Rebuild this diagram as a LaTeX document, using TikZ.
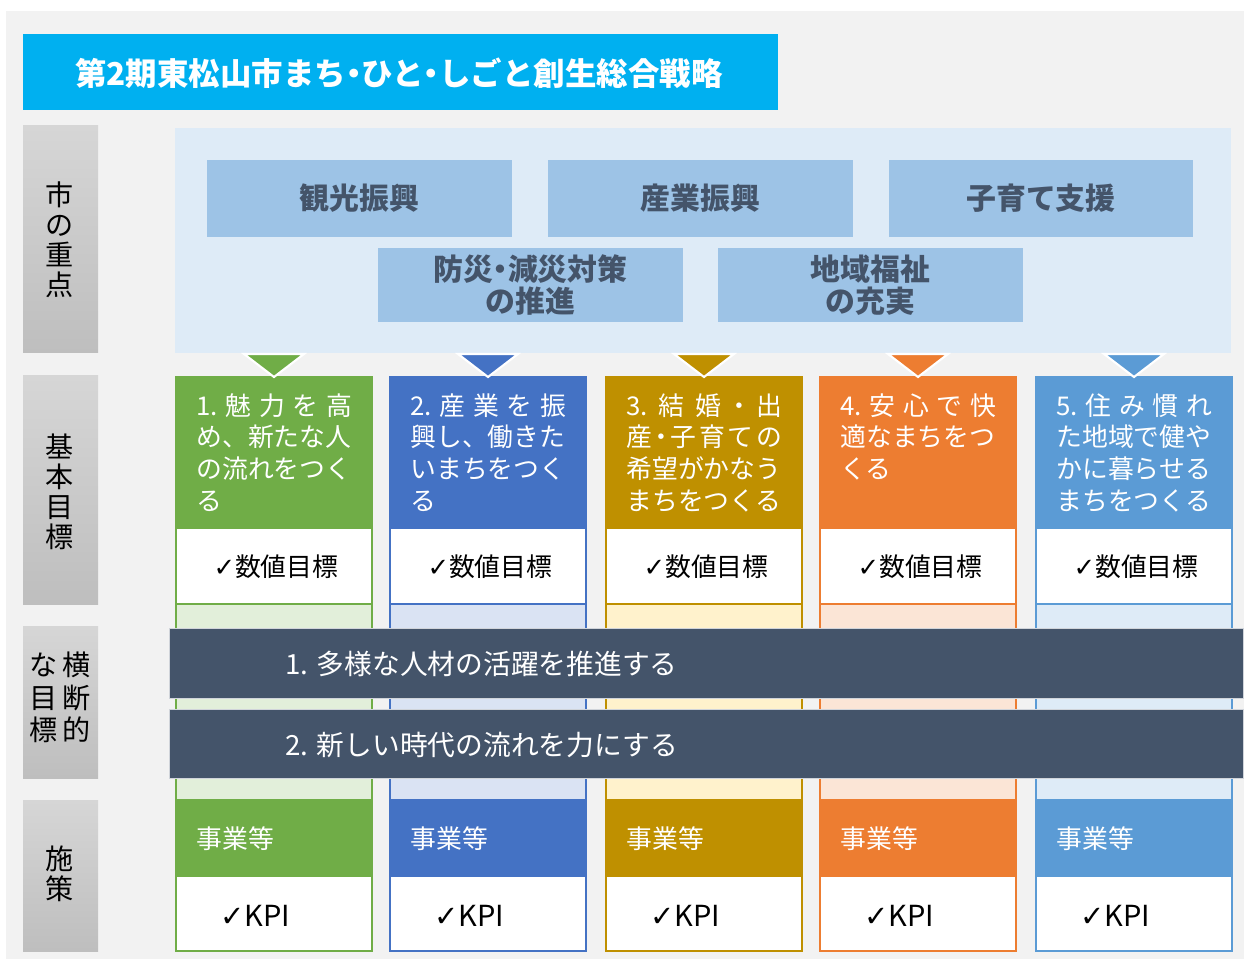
\documentclass[tikz,border=0pt]{standalone}
\usepackage{fontspec}
\setmainfont{Noto Sans CJK JP}
\newfontfamily\checkfont{DejaVu Sans}
\definecolor{panelgray}{HTML}{F2F2F2}
\definecolor{titlecyan}{HTML}{00B0F0}
\definecolor{keypanel}{HTML}{DEEBF7}
\definecolor{keyblue}{HTML}{9DC3E6}
\definecolor{slate}{HTML}{44546A}
\definecolor{sidetop}{HTML}{D6D6D6}
\definecolor{sidebottom}{HTML}{BEBEBE}
\definecolor{goalA}{HTML}{70AD47}
\definecolor{goalB}{HTML}{4472C4}
\definecolor{goalC}{HTML}{BF9000}
\definecolor{goalD}{HTML}{ED7D31}
\definecolor{goalE}{HTML}{5B9BD5}
\definecolor{tintA}{HTML}{E2EFDA}
\definecolor{tintB}{HTML}{DAE3F3}
\definecolor{tintC}{HTML}{FFF2CC}
\definecolor{tintD}{HTML}{FBE5D6}
\definecolor{tintE}{HTML}{DEEBF7}
\newcommand{\chk}{{\checkfont ✓}}
\newcommand{\nakaguro}{\makebox[0.5em]{・}}
\newcommand{\spreadline}[1]{\makebox[3.12cm][s]{#1}}

\begin{document}
\begin{tikzpicture}[x=0.02cm, y=-0.02cm,
	sidebox/.style={top color=sidetop, bottom color=sidebottom},
	sidetext/.style={align=center, inner sep=0pt, font=\fontsize{16}{17}\selectfont},
	keybox/.style={fill=keyblue, text=slate, inner sep=0pt, align=center,
		minimum width=6.1cm, font=\bfseries\fontsize{17}{18.1}\selectfont},
	goaltext/.style={anchor=north west, inner sep=0pt, text=white, text width=3.2cm,
		align=left, font=\fontsize{14.7}{18.1}\selectfont},
	celltext/.style={inner sep=0pt, font=\fontsize{14.7}{16}\selectfont},
	bandtext/.style={anchor=west, inner sep=0pt, text=white, font=\fontsize{15.8}{17}\selectfont}
	]
	\useasboundingbox (0,0) rectangle (1244,959);
	\fill[white] (0,0) rectangle (1244,959);
	\fill[panelgray] (6,11) rectangle (1244,959);

	\fill[titlecyan] (23,34) rectangle (778,110);
	\node[anchor=west, inner sep=0pt, text=white, font=\bfseries\fontsize{17.9}{19}\selectfont]
		(title) at (75,73) {第2期東松山市まち\nakaguro ひと\nakaguro しごと創生総合戦略};

	\shade[sidebox] (23,126) rectangle (98,353);
	\shade[sidebox] (23,376) rectangle (98,604);
	\shade[sidebox] (23,626) rectangle (98,778);
	\shade[sidebox] (23,800) rectangle (98,951);
	\node[sidetext] (side1) at (60,240) {市\\の\\重\\点};
	\node[sidetext] (side2) at (60,492) {基\\本\\目\\標};
	\node[sidetext] (side3) at (60,701)
		{\begin{tabular}{@{}c@{\hspace{3pt}}c@{}}な&横\\目&断\\標&的\end{tabular}};
	\node[sidetext] (side4) at (60,874) {施\\策};

	\fill[keypanel] (175,128) rectangle (1231,353);
	\node[keybox, minimum height=1.54cm] (tourism) at (359.5,198.5) {観光振興};
	\node[keybox, minimum height=1.54cm] (industry) at (700.5,198.5) {産業振興};
	\node[keybox, minimum height=1.54cm] (childcare) at (1041,198.5) {子育て支援};
	\node[keybox, minimum height=1.48cm] (disaster) at (530.5,285) {防災\nakaguro 減災対策\\の推進};
	\node[keybox, minimum height=1.48cm] (welfare) at (870.5,285) {地域福祉\\の充実};

	\foreach \x/\c/\t [count=\i] in {175/goalA/tintA, 389/goalB/tintB, 605/goalC/tintC,
		819/goalD/tintD, 1035/goalE/tintE}
	{
		\fill[\c] (\x,376) rectangle ++(198,152);
		\filldraw[fill=white, draw=\c, line width=1.2pt] (\x+1,528) rectangle ++(196,76);
		\filldraw[fill=\t, draw=\c, line width=1.2pt] (\x+1,604) rectangle ++(196,196);
		\fill[\c] (\x,800) rectangle ++(198,76);
		\filldraw[fill=white, draw=\c, line width=1.2pt] (\x+1,876) rectangle ++(196,75);
		\filldraw[fill=\c, draw=white, line width=1.2pt]
			(\x+69,354) -- (\x+129,354) -- (\x+99,377) -- cycle;
		\node[celltext] (target\i) at (\x+101,567) {\chk 数値目標};
		\node[celltext, anchor=west, text=white] (project\i) at (\x+21,839) {事業等};
		\node[celltext, anchor=west, font=\fontsize{16.5}{17}\selectfont] (kpi\i) at (\x+45,916) {\chk KPI};
	}

	\node[goaltext] (goal1) at (196,393)
		{\spreadline{1.\hfill 魅\hfill 力\hfill を\hfill 高}\\め、新たな人\\の流れをつく\\る};
	\node[goaltext] (goal2) at (410,393)
		{\spreadline{2.\hfill 産\hfill 業\hfill を\hfill 振}\\興し、働きた\\いまちをつく\\る};
	\node[goaltext] (goal3) at (626,393)
		{\spreadline{3.\hfill 結\hfill 婚\hfill\nakaguro\hfill 出}\\
		\spreadline{産\hfill\nakaguro\hfill 子\hfill 育\hfill て\hfill の}\\希望がかなう\\まちをつくる};
	\node[goaltext] (goal4) at (840,393)
		{\spreadline{4.\hfill 安\hfill 心\hfill で\hfill 快}\\適なまちをつ\\くる};
	\node[goaltext] (goal5) at (1056,393)
		{\spreadline{5.\hfill 住\hfill み\hfill 慣\hfill れ}\\た地域で健や\\かに暮らせる\\まちをつくる};

	\filldraw[fill=slate, draw=white!75!slate, line width=0.4pt] (169,628) rectangle (1243,698);
	\filldraw[fill=slate, draw=white!75!slate, line width=0.4pt] (169,709) rectangle (1243,778);
	\node[bandtext] (cross1) at (285,664) {1. 多様な人材の活躍を推進する};
	\node[bandtext] (cross2) at (285,745) {2. 新しい時代の流れを力にする};
\end{tikzpicture}
\end{document}
